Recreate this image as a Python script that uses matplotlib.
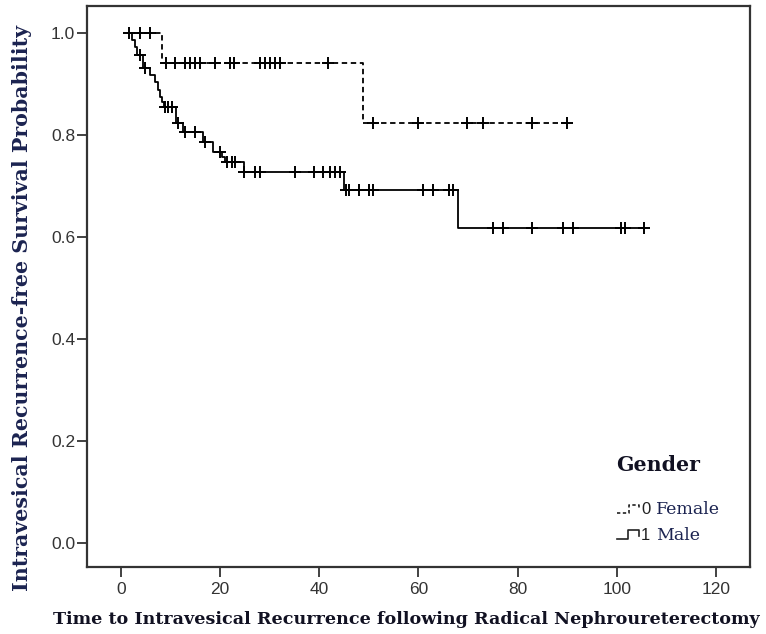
import numpy as np
import matplotlib
matplotlib.use("Agg")
import matplotlib.pyplot as plt
from matplotlib.lines import Line2D

# ---------------- data ----------------
female_times = [1.5, 8.3, 48.9]
female_surv = [1.0, 0.941, 0.824]
female_end = 90.0
female_censor = [1.7, 3.8, 5.9, 9.1, 10.9, 12.9, 13.9, 14.9, 15.9, 19.0, 22.0, 22.8,
                 28.0, 29.1, 30.1, 31.1, 32.1, 41.8,
                 50.8, 60.0, 69.8, 73.0, 83.0, 90.0]

male_times = [1.5, 2.2, 2.8, 3.3, 4.4, 5.8, 6.9, 7.4, 7.9, 8.3, 8.7, 11.1, 12.6,
              16.6, 18.5, 20.3, 21.0, 24.8, 45.0, 68.0]
male_surv = [1.0, 0.986, 0.972, 0.957, 0.931, 0.918, 0.903, 0.888, 0.875, 0.865,
             0.855, 0.823, 0.806, 0.787, 0.767, 0.757, 0.748, 0.727, 0.692, 0.617]
male_end = 105.5
male_censor = [3.8, 4.8, 8.9, 9.5, 10.2, 11.5, 12.9, 14.9, 16.9, 20.0, 21.3, 22.3, 23.0,
               24.8, 27.0, 28.0, 35.1, 38.9, 40.8, 42.2, 43.2, 44.2,
               45.4, 46.0, 48.1, 50.1, 50.9, 61.0, 63.0, 66.2, 67.0,
               75.1, 77.0, 83.0, 89.2, 91.1, 100.8, 101.7, 105.5]

x_ticks = [0, 20, 40, 60, 80, 100, 120]
y_ticks = [0.0, 0.2, 0.4, 0.6, 0.8, 1.0]
x_label = "Time to Intravesical Recurrence following Radical Nephroureterectomy"
y_label = "Intravesical Recurrence-free Survival Probability"
legend_title = "Gender"
legend_codes = ["0", "1"]
legend_names = ["Female", "Male"]

# ---------------- figure ----------------
W, H = 766, 634
fig = plt.figure(figsize=(W / 100, H / 100), dpi=100)
L, R, T, B = 87, 750, 6, 567
ax = fig.add_axes([L / W, 1 - B / H, (R - L) / W, (B - T) / H])

def fx(x):
    return x / W

def fy(y):
    return 1 - y / H

def level_at(times, surv, t):
    i = np.searchsorted(times, t, side="right") - 1
    return np.array(surv)[np.clip(i, 0, len(surv) - 1)]

def draw_group(times, surv, end, censor, ls):
    tt = list(times) + [end]
    ss = list(surv) + [surv[-1]]
    ax.step(tt, ss, where="post", color="black", lw=1.3, linestyle=ls,
            dash_capstyle="butt")
    cy = level_at(np.array(times), surv, np.array(censor))
    ax.plot(censor, cy, linestyle="none", marker="+", color="black",
            markersize=9, markeredgewidth=1.4)

draw_group(female_times, female_surv, female_end, female_censor, (0, (3, 2)))
draw_group(male_times, male_surv, male_end, male_censor, "-")

ax.set_xlim(-6.86, 126.9)
ax.set_ylim(-0.047, 1.053)
ax.set_xticks(x_ticks)
ax.set_yticks(y_ticks)
ax.set_yticklabels([f"{v:.1f}" for v in y_ticks])
ax.tick_params(axis="both", direction="out", length=7, width=1.3, color="#333333",
               labelsize=12.5, labelcolor="#333333")
ax.tick_params(axis="x", pad=4)
ax.tick_params(axis="y", pad=1.5)
for lab in ax.get_xticklabels() + ax.get_yticklabels():
    lab.set_fontfamily("Liberation Sans")
for sp in ax.spines.values():
    sp.set_linewidth(1.6)
    sp.set_color("#333333")

# axis titles
fig.text(fx(406), fy(619), x_label, ha="center", va="center",
         family="DejaVu Serif", weight="bold", fontsize=12.6, color="#111122")
fig.text(fx(22), fy(308), y_label, ha="center", va="center", rotation=90,
         family="DejaVu Serif", weight="bold", fontsize=14.8, color="#1b2350")

# legend
fig.text(fx(616), fy(465), legend_title, ha="left", va="center",
         family="DejaVu Serif", weight="bold", fontsize=14.8, color="#111122")
icons = [((617, 513), (629, 513), (629, 505), (639, 505), (639, 510)),
         ((617, 539), (628, 539), (628, 530), (639, 530), (639, 536))]
styles = [(0, (2, 1.5)), "-"]
for k, (pts, st) in enumerate(zip(icons, styles)):
    xs = [fx(p[0]) for p in pts]
    ys = [fy(p[1]) for p in pts]
    fig.add_artist(Line2D(xs, ys, transform=fig.transFigure, color="#222222",
                          lw=1.2, linestyle=st))
    yy = 510 + 25 * k
    fig.text(fx(641), fy(yy), legend_codes[k], ha="left", va="center",
             family="Liberation Sans", fontsize=12, color="#222222")
    fig.text(fx(656), fy(yy), legend_names[k], ha="left", va="center",
             family="DejaVu Serif", fontsize=12.5, color="#1b2350")

fig.savefig("out.png", dpi=100)
